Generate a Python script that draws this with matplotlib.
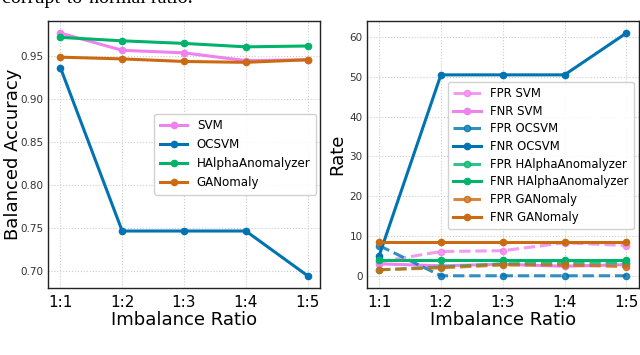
import matplotlib
matplotlib.use("Agg")
import matplotlib.pyplot as plt

ratios = ["1:1", "1:2", "1:3", "1:4", "1:5"]

# Balanced accuracy
acc_svm = [0.977, 0.957, 0.954, 0.945, 0.946]
acc_ocsvm = [0.937, 0.747, 0.747, 0.747, 0.695]
acc_halpha = [0.972, 0.968, 0.965, 0.961, 0.962]
acc_ganomaly = [0.949, 0.947, 0.944, 0.943, 0.946]

# Rates
fpr_svm = [3.5, 6.1, 6.3, 8.3, 7.6]
fnr_svm = [3.0, 2.5, 2.9, 2.4, 2.8]
fpr_ocsvm = [7.6, 0.0, 0.0, 0.0, 0.0]
fnr_ocsvm = [5.0, 50.5, 50.5, 50.5, 61.0]
fpr_halpha = [1.5, 2.2, 3.0, 3.2, 3.2]
fnr_halpha = [4.0, 4.0, 4.0, 4.0, 4.0]
fpr_ganomaly = [1.5, 2.0, 2.7, 2.7, 2.3]
fnr_ganomaly = [8.6, 8.6, 8.6, 8.6, 8.6]

c_svm = "#ee82ee"
c_ocsvm = "#0173b2"
c_halpha = "#00b36b"
c_gan = "#cc6a12"

fig = plt.figure(figsize=(6.4, 3.55), dpi=100)
ax1 = fig.add_axes([0.075, 0.189, 0.425, 0.752])
ax2 = fig.add_axes([0.573, 0.189, 0.425, 0.752])

x = list(range(len(ratios)))
lw = 2.2
ms = 4.5

ax1.plot(x, acc_svm, "-o", color=c_svm, lw=lw, ms=ms, label="SVM")
ax1.plot(x, acc_ocsvm, "-o", color=c_ocsvm, lw=lw, ms=ms, label="OCSVM")
ax1.plot(x, acc_halpha, "-o", color=c_halpha, lw=lw, ms=ms, label="HAlphaAnomalyzer")
ax1.plot(x, acc_ganomaly, "-o", color=c_gan, lw=lw, ms=ms, label="GANomaly")
ax1.set_ylabel("Balanced Accuracy", fontsize=13, labelpad=-1)
ax1.set_yticks([0.70, 0.75, 0.80, 0.85, 0.90, 0.95])
ax1.legend(loc="center right", bbox_to_anchor=(0.985, 0.5), fontsize=8.6,
           labelspacing=0.5, handlelength=2.3, framealpha=0.9, borderpad=0.45,
           borderaxespad=0)

series = [
    (fpr_svm, c_svm, "--", "FPR SVM"),
    (fnr_svm, c_svm, "-", "FNR SVM"),
    (fpr_ocsvm, c_ocsvm, "--", "FPR OCSVM"),
    (fnr_ocsvm, c_ocsvm, "-", "FNR OCSVM"),
    (fpr_halpha, c_halpha, "--", "FPR HAlphaAnomalyzer"),
    (fnr_halpha, c_halpha, "-", "FNR HAlphaAnomalyzer"),
    (fpr_ganomaly, c_gan, "--", "FPR GANomaly"),
    (fnr_ganomaly, c_gan, "-", "FNR GANomaly"),
]
for vals, c, ls, lab in series:
    ax2.plot(x, vals, linestyle=ls, marker="o", color=c, lw=lw, ms=ms, label=lab,
             alpha=0.8 if ls == "--" else 1.0)
ax2.set_ylabel("Rate", fontsize=13, labelpad=2)
ax2.set_yticks([0, 10, 20, 30, 40, 50, 60])
ax2.legend(loc="upper right", bbox_to_anchor=(0.982, 0.772), fontsize=8.4,
           labelspacing=0.4, handlelength=2.4, framealpha=0.9, borderpad=0.45,
           borderaxespad=0)

for ax in (ax1, ax2):
    ax.set_xticks(x)
    ax.set_xticklabels(ratios, fontsize=11)
    ax.set_xlabel("Imbalance Ratio", fontsize=13, labelpad=1)
    ax.tick_params(axis="y", labelsize=7.5, labelcolor="#333333", length=0, pad=3)
    ax.tick_params(axis="x", length=0, pad=5)
    ax.grid(True, linestyle=":", color="#cccccc", lw=0.8)
    ax.set_axisbelow(True)
    for s in ax.spines.values():
        s.set_color("#222222")
        s.set_linewidth(1.0)

fig.text(0.003, 1.003, "corrupt-to-normal ratio.", family="Liberation Serif",
         fontsize=14.5, va="center", ha="left")
fig.text(0.003, -0.025, "Fig. 1", family="Liberation Serif", fontsize=13,
         va="center", ha="left")

fig.savefig("out.png", dpi=100)
